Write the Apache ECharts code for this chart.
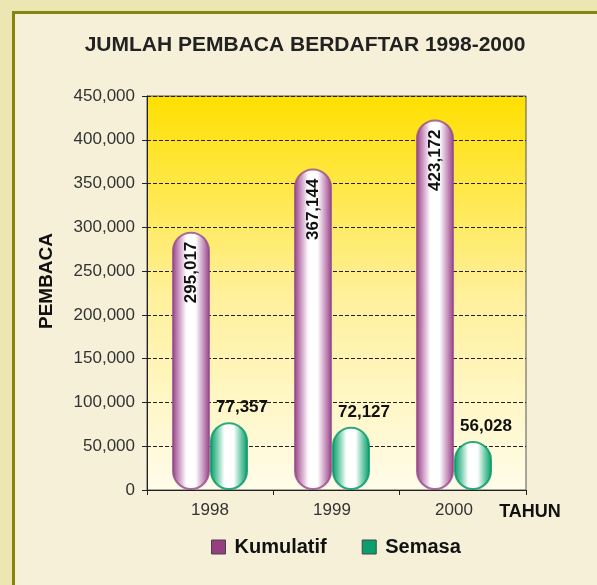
<!DOCTYPE html>
<html>
<head>
<meta charset="utf-8">
<script src="https://cdn.jsdelivr.net/npm/echarts@6/dist/echarts.min.js"></script>
<style>
  html, body { margin: 0; padding: 0; width: 597px; height: 585px; overflow: hidden; background: #ECE6B3; }
  .frame {
    position: absolute; left: 12px; top: 11px; width: 620px; height: 620px;
    background: #F6F0D9; border-left: 3px solid #858510; border-top: 3px solid #858510;
  }
  #chart { position: absolute; left: 0; top: 0; width: 597px; height: 585px; }
</style>
</head>
<body>
<div class="frame"></div>
<div id="chart"></div>
<script>
// data
var years = ['1998', '1999', '2000']
var kumulatif = [295017, 367144, 423172]
var semasa = [77357, 72127, 56028]
var yTicks = [0, 50000, 100000, 150000, 200000, 250000, 300000, 350000, 400000, 450000]

function fmt(v) {
  return String(v).replace(/\B(?=(\d{3})+(?!\d))/g, ',')
}

function tube(edge, mid) {
  return {
    type: 'linear', x: 0, y: 0, x2: 1, y2: 0,
    colorStops: [
      { offset: 0, color: edge },
      { offset: 0.17, color: mid },
      { offset: 0.38, color: '#ffffff' },
      { offset: 0.62, color: '#ffffff' },
      { offset: 0.83, color: mid },
      { offset: 1, color: edge }
    ]
  }
}

var font = 'Liberation Sans'

var chart = echarts.init(document.getElementById('chart'))
chart.setOption({
  animation: false,
  graphic: [
    {
      type: 'text', x: 305, y: 45,
      style: {
        text: 'JUMLAH PEMBACA BERDAFTAR 1998-2000',
        align: 'center', verticalAlign: 'middle',
        textAlign: 'center', textVerticalAlign: 'middle',
        font: 'bold 21px "Liberation Sans"', fill: '#222'
      }
    },
    {
      type: 'text', x: 47, y: 281, rotation: Math.PI / 2,
      style: {
        text: 'PEMBACA',
        align: 'center', verticalAlign: 'middle',
        textAlign: 'center', textVerticalAlign: 'middle',
        font: 'bold 19px "Liberation Sans"', fill: '#111'
      }
    }
  ],
  legend: {
    left: 206,
    top: 532,
    itemWidth: 14,
    itemHeight: 14,
    itemGap: 35,
    icon: 'rect',
    textStyle: { fontFamily: font, fontSize: 20, fontWeight: 'bold', color: '#111', padding: [0, 0, 0, 4] },
    data: [
      { name: 'Kumulatif', itemStyle: { color: '#953F82', borderColor: '#444', borderWidth: 1 } },
      { name: 'Semasa', itemStyle: { color: '#0A9F6C', borderColor: '#444', borderWidth: 1 } }
    ]
  },
  grid: [
    {
      // frame grid: background, ticks, dashed lines
      left: 147,
      top: 96,
      right: 71,
      bottom: 95,
      show: true,
      borderColor: '#555',
      borderWidth: 1,
      backgroundColor: {
        type: 'linear', x: 0, y: 0, x2: 0, y2: 1,
        colorStops: [
          { offset: 0, color: '#FFE000' },
          { offset: 0.5, color: '#FFF09A' },
          { offset: 1, color: '#FFFCEA' }
        ]
      }
    },
    {
      // bar grid, slightly narrower like the original
      left: 149,
      top: 96,
      right: 82,
      bottom: 95
    }
  ],
  xAxis: [
    {
      type: 'category',
      gridIndex: 0,
      data: years,
      name: 'TAHUN',
      nameLocation: 'end',
      nameGap: 4,
      nameTextStyle: {
        fontFamily: font, fontSize: 18, fontWeight: 'bold', color: '#111',
        align: 'center', verticalAlign: 'top', padding: [13, 0, 0, 0]
      },
      axisLine: { lineStyle: { color: '#222', width: 1 } },
      axisTick: { show: true, length: 5, lineStyle: { color: '#222' } },
      axisLabel: { show: false }
    },
    {
      type: 'category',
      gridIndex: 1,
      data: years,
      axisLine: { show: false },
      axisTick: { show: false },
      axisLabel: { fontFamily: font, fontSize: 17, color: '#333', margin: 12 }
    }
  ],
  yAxis: [
    {
      type: 'value',
      gridIndex: 0,
      min: yTicks[0],
      max: yTicks[yTicks.length - 1],
      interval: 50000,
      axisLine: { show: true, lineStyle: { color: '#222', width: 1 } },
      axisTick: { show: true, length: 5, lineStyle: { color: '#222' } },
      axisLabel: {
        fontFamily: font, fontSize: 17, color: '#333', margin: 12,
        formatter: function (v) { return fmt(v) }
      },
      splitLine: { show: true, lineStyle: { color: '#222', type: [4, 2], width: 1 } }
    },
    {
      type: 'value',
      gridIndex: 1,
      min: yTicks[0],
      max: yTicks[yTicks.length - 1],
      interval: 50000,
      show: false
    }
  ],
  series: [
    {
      name: 'Kumulatif',
      type: 'bar',
      xAxisIndex: 1,
      yAxisIndex: 1,
      data: kumulatif,
      barWidth: 38,
      barGap: '0%',
      itemStyle: {
        color: tube('#913E81', '#C792BE'),
        borderColor: 'rgba(150, 75, 138, 0.8)',
        borderWidth: 2,
        borderRadius: 19
      },
      label: {
        show: true,
        position: 'insideTop',
        distance: 10,
        rotate: 90,
        align: 'right',
        verticalAlign: 'middle',
        fontFamily: font,
        fontSize: 17,
        fontWeight: 'bold',
        color: '#111',
        formatter: function (p) { return fmt(p.value) }
      }
    },
    {
      name: 'Semasa',
      type: 'bar',
      xAxisIndex: 1,
      yAxisIndex: 1,
      data: semasa,
      barWidth: 38,
      itemStyle: {
        color: tube('#07976A', '#66C8A4'),
        borderColor: 'rgba(10, 155, 105, 0.85)',
        borderWidth: 2,
        borderRadius: 19
      },
      label: {
        show: true,
        position: 'top',
        distance: 6,
        offset: [13, 0],
        fontFamily: font,
        fontSize: 17,
        fontWeight: 'bold',
        color: '#111',
        formatter: function (p) { return fmt(p.value) }
      }
    }
  ]
})
</script>
</body>
</html>
